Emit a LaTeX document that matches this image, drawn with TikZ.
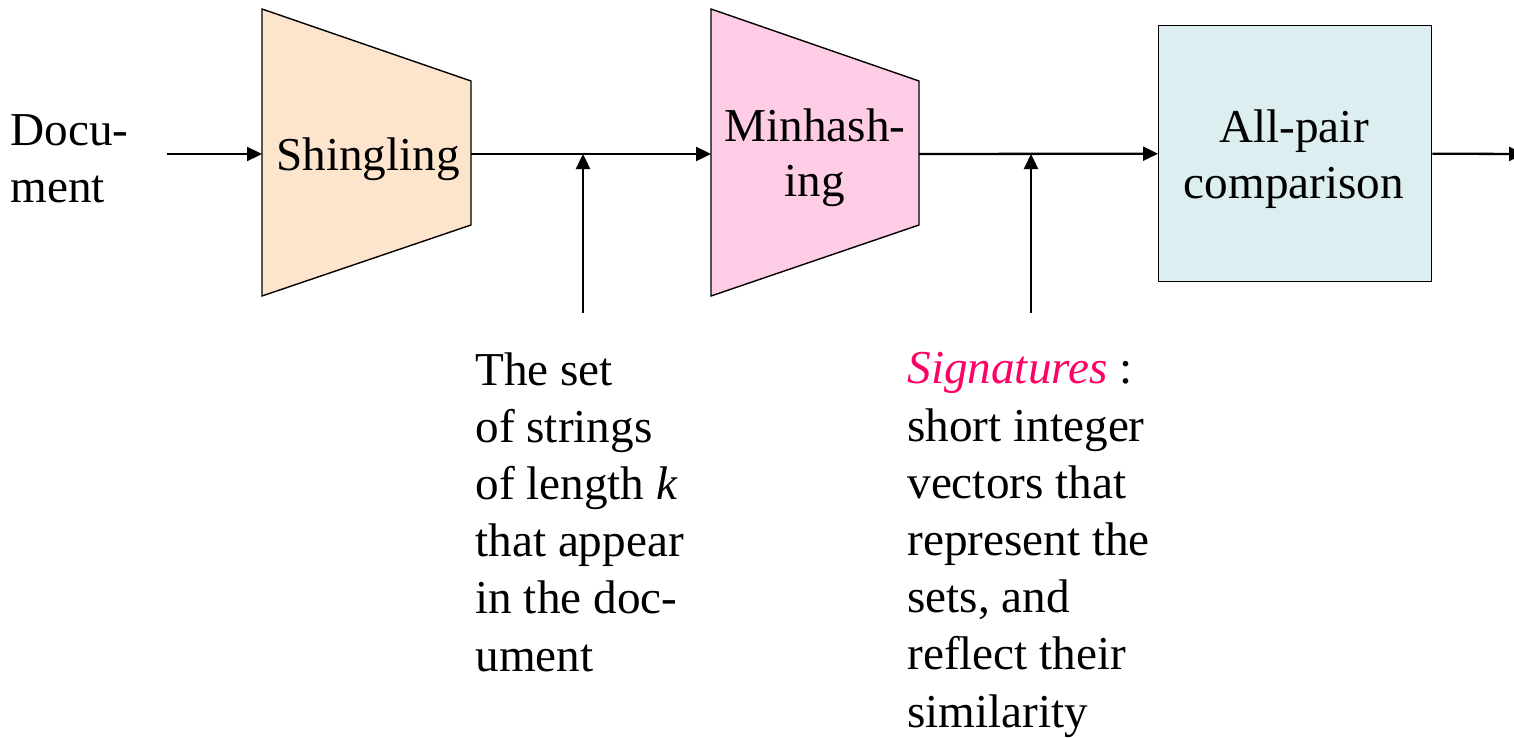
\documentclass[tikz,border=0pt]{standalone}
\usepackage{fontspec}
\setmainfont{Liberation Serif}
\usetikzlibrary{arrows.meta}
\definecolor{peach}{HTML}{FDE5CD}
\definecolor{rosy}{HTML}{FFCCE6}
\definecolor{paleblue}{HTML}{DDEEF0}
\definecolor{sigred}{HTML}{FF0066}
\begin{document}
\begin{tikzpicture}[x=0.5pt,y=-0.5pt,
  every node/.style={font=\fontsize{23.6}{28.6}\selectfont, inner sep=0pt},
  stage/.style={draw=black, line width=0.7pt},
  flow/.style={line width=1.15pt, -{Triangle[length=7.5pt,width=7pt]}},
  label/.style={align=left, anchor=base west}]
\useasboundingbox (0,0) rectangle (1514,738);

% pipeline stages
\draw[stage, fill=peach] (262,9) -- (471,81) -- (471,225) -- (262,296) -- cycle;
\draw[stage, fill=rosy] (711,9) -- (919,81) -- (919,225) -- (711,296) -- cycle;
\node[stage, fill=paleblue, minimum width=136.5pt, minimum height=128pt, anchor=north west] (cmp) at (1158,25) {};

% connection points of the stages
\coordinate (sh-in) at (262,154);
\coordinate (sh-out) at (471,154);
\coordinate (mh-in) at (711,154);
\coordinate (mh-out) at (919,154);
\coordinate (doc-out) at (167,154);
\coordinate (end) at (1524,154);
\coordinate (sets-tap) at (583,154);
\coordinate (sets-foot) at (583,313);
\coordinate (sig-tap) at (1031,154);
\coordinate (sig-foot) at (1031,313);

% stage captions
\node[anchor=base] (sh) at (368,170) {Shingling};
\node[anchor=base] (mh1) at (815,141) {Minhash-};
\node[anchor=base] (mh2) at (815,196) {ing};
\node[anchor=base] (cmp1) at (1294,142) {All-pair};
\node[anchor=base] (cmp2) at (1294,198) {comparison};

% input label
\node[anchor=base west] (doc1) at (10,145) {Docu-};
\node[anchor=base west] (doc2) at (10,202) {ment};

% flow
\draw[flow] (doc-out) -- (sh-in);
\draw[flow] (sh-out) -- (mh-in);
\draw[flow] (mh-out) -- (cmp.west);
\draw[flow] (cmp.east) -- (end);
\draw[flow] (sets-foot) -- (sets-tap);
\draw[flow] (sig-foot) -- (sig-tap);

% descriptions of the intermediate data (anchored at the last baseline)
\node[label] (sets) at (475,671) {The set\\of strings\\of length \textit{k}\\that appear\\in the doc-\\ument};
\node[label] (sig) at (907,727) {\textcolor{sigred}{\textit{Signatures}} :\\short integer\\vectors that\\represent the\\sets, and\\reflect their\\similarity};
\end{tikzpicture}
\end{document}
